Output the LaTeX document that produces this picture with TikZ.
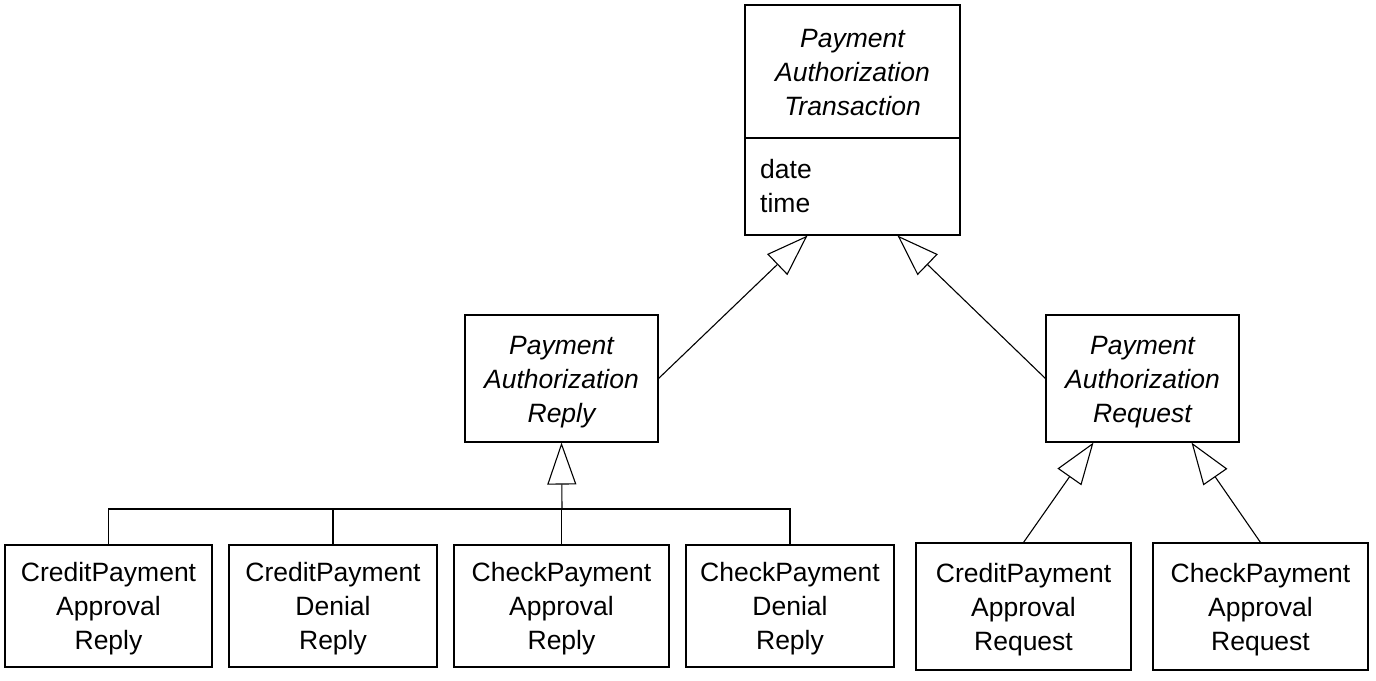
\documentclass[tikz,border=0pt]{standalone}
\usepackage{fontspec}
\setmainfont{Liberation Sans}
\usetikzlibrary{arrows.meta}
\newcommand{\lowr}{\rule{0pt}{25pt}}
\begin{document}
\begin{tikzpicture}[x=1pt,y=-1pt,
  box/.style={draw=black, line width=1.1pt, inner sep=0pt, align=center,
    font=\fontsize{26.5}{34}\selectfont},
  txt/.style={inner sep=0pt, align=center, font=\fontsize{26.5}{34}\selectfont},
  gen/.style={draw=black, line width=1.1pt,
    -{Triangle[open, length=42pt, width=29pt, line width=1.1pt, fill=white]}},
  conn/.style={draw=black, line width=1.1pt}]
\useasboundingbox[fill=white] (0,0) rectangle (1376,680);
% top class
\node[draw=black, line width=1.1pt, inner sep=0pt, minimum width=215pt, minimum height=230pt] (top) at (852.5,120) {};
\node[txt, font=\fontsize{26.5}{34}\selectfont\itshape] (toptitle) at (852.5,72.5) {Payment\\Authorization\\Transaction};
\draw[conn] (top.west |- 0,138) -- (top.east |- 0,138);
\node[txt, align=left, anchor=west] (attrs) at (760,186) {date\\time};
% middle
\node[box, minimum width=193pt, minimum height=127pt, font=\fontsize{26.5}{34}\selectfont\itshape] (reply) at (561.5,378.5) {\lowr Payment\\Authorization\\Reply};
\node[box, minimum width=193pt, minimum height=127pt, font=\fontsize{26.5}{34}\selectfont\itshape] (request) at (1142.5,378.5) {\lowr Payment\\Authorization\\Request};
% bottom
\node[box, minimum width=207pt, minimum height=122pt] (c1) at (108.5,606) {\lowr CreditPayment\\Approval\\Reply};
\node[box, minimum width=208pt, minimum height=122pt] (c2) at (333,606) {\lowr CreditPayment\\Denial\\Reply};
\node[box, minimum width=215pt, minimum height=122pt] (c3) at (561.5,606) {\lowr CheckPayment\\Approval\\Reply};
\node[box, minimum width=208pt, minimum height=122pt] (c4) at (790,606) {\lowr CheckPayment\\Denial\\Reply};
\node[box, minimum width=215pt, minimum height=127pt] (r1) at (1023.5,606.5) {\lowr CreditPayment\\Approval\\Request};
\node[box, minimum width=215pt, minimum height=127pt] (r2) at (1260.5,606.5) {\lowr CheckPayment\\Approval\\Request};
% connectors
\draw[gen] (reply.east) -- ([xshift=-45pt]top.south);
\draw[gen] (request.west) -- ([xshift=45pt]top.south);
\coordinate (bus) at (562,509);
\draw[conn] (c1.north) |- (bus);
\draw[conn] (c4.north) |- (bus);
\draw[conn] (c2.north) -- (c2.north |- bus);
\draw[conn] (c3.north) -- (c3.north |- bus);
\draw[gen] (bus) -- (reply.south);
\draw[gen] (r1.north) -- ([xshift=-49pt]request.south);
\draw[gen] (r2.north) -- ([xshift=49pt]request.south);
\end{tikzpicture}
\end{document}
